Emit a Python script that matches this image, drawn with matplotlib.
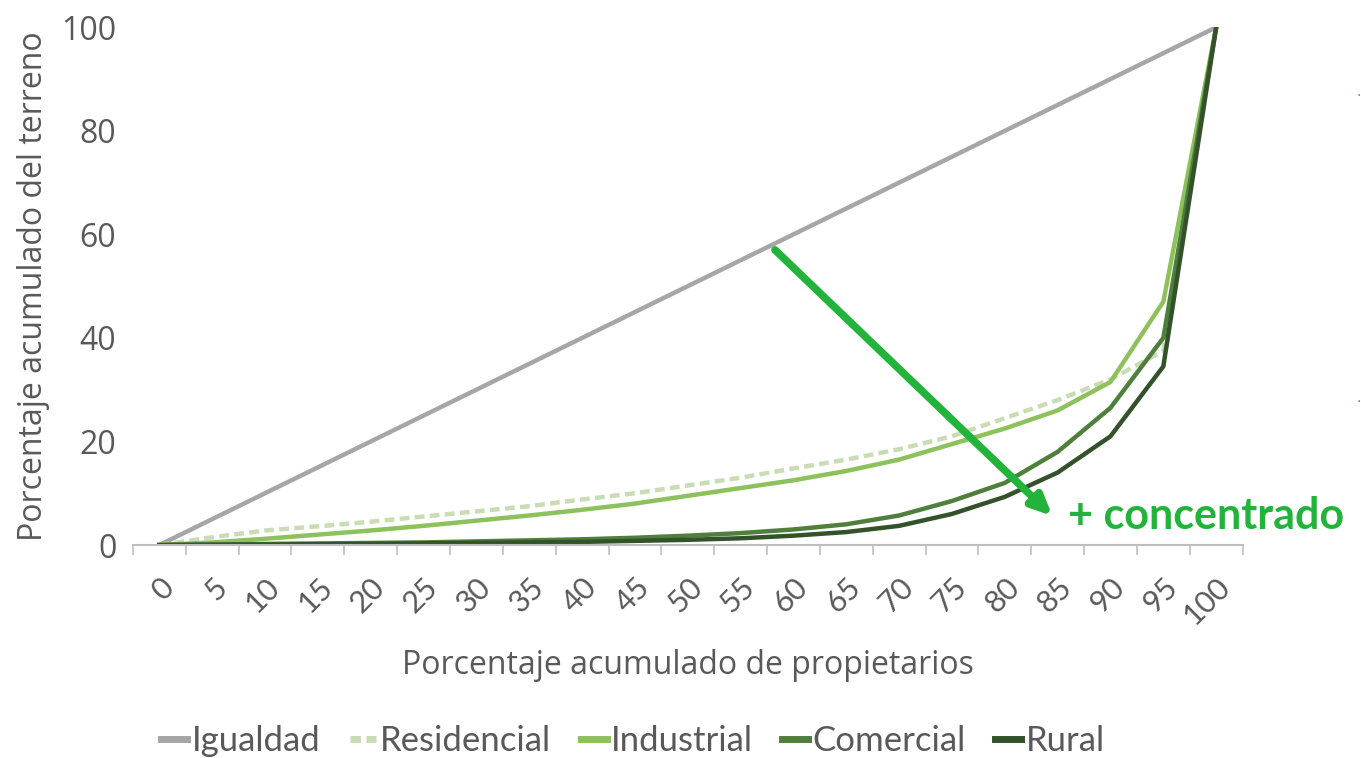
'''
    Curvas de Lorenz: concentracion de la tierra por tipo de uso
'''

# --
# Dependancies
import matplotlib
matplotlib.use('Agg')
import matplotlib.pyplot as plt
from matplotlib.lines import Line2D

# --
# Data
categorias = [0, 5, 10, 15, 20, 25, 30, 35, 40, 45, 50,
              55, 60, 65, 70, 75, 80, 85, 90, 95, 100]
igualdad = [0, 5, 10, 15, 20, 25, 30, 35, 40, 45, 50,
            55, 60, 65, 70, 75, 80, 85, 90, 95, 100]
residencial = [0, 1.5, 2.8, 3.6, 4.5, 5.5, 6.5, 7.5, 8.8, 10, 11.5,
               13, 14.8, 16.5, 18.5, 21, 24.5, 28, 32, 37.5, 100]
industrial = [0, 0.5, 1.2, 2, 2.8, 3.7, 4.7, 5.7, 6.8, 8, 9.5,
              11, 12.5, 14.3, 16.5, 19.5, 22.5, 26, 31.5, 47, 100]
comercial = [0, 0.1, 0.2, 0.3, 0.4, 0.5, 0.7, 0.9, 1.1, 1.4, 1.8,
             2.3, 3, 4, 5.7, 8.5, 12, 18, 26.5, 40, 100]
rural = [0, 0.05, 0.1, 0.15, 0.2, 0.3, 0.4, 0.5, 0.6, 0.8, 1.0,
         1.3, 1.8, 2.5, 3.7, 6, 9.3, 14, 21, 34.5, 100]

series = ['Igualdad', 'Residencial', 'Industrial', 'Comercial', 'Rural']
colores = ['#A6A6A6', '#C8DDB3', '#8DC15C', '#4F7F3C', '#33522A']

gris = '#595959'
verde = '#22B33A'

# --
# Figure
fig = plt.figure(figsize=(13.61, 7.58), dpi=100)
ax = fig.add_axes([0.0977, 0.281, 0.8153, 0.683])

x = list(range(len(categorias)))
ax.plot(x, igualdad, color=colores[0], lw=3.2, solid_capstyle='butt')
ax.plot(x, residencial, color=colores[1], lw=3.2, ls=(0, (2.2, 1.2)))
ax.plot(x, industrial, color=colores[2], lw=3.2)
ax.plot(x, comercial, color=colores[3], lw=3.2)
ax.plot(x, rural, color=colores[4], lw=3.2)

ax.set_xlim(-0.5, len(categorias) - 0.5)
ax.set_ylim(0, 100)

# - category axis: labels on centres, tick marks on boundaries
ax.set_xticks(x)
ax.set_xticklabels([str(c) for c in categorias], rotation=45, ha='right',
                   rotation_mode='anchor', fontsize=22, color=gris,
                   family='Lato')
ax.set_xticks([i - 0.5 for i in range(len(categorias) + 1)], minor=True)
ax.tick_params(axis='x', which='major', length=0, pad=20)
ax.tick_params(axis='x', which='minor', length=7, width=1.2, color='#BFBFBF')

ax.set_yticks([0, 20, 40, 60, 80, 100])
ax.tick_params(axis='y', length=0, pad=12, labelsize=23, labelcolor=gris)
for t in ax.get_yticklabels():
    t.set_family('Open Sans')

for s in ['top', 'right', 'left']:
    ax.spines[s].set_visible(False)
ax.spines['bottom'].set_color('#BFBFBF')
ax.spines['bottom'].set_linewidth(1.5)

ax.set_xlabel('Porcentaje acumulado de propietarios', fontsize=23,
              color=gris, family='Open Sans', labelpad=14)
ax.set_ylabel('Porcentaje acumulado del terreno', fontsize=23,
              color=gris, family='Open Sans', labelpad=8)

# --
# Arrow + annotation
ax.annotate('', xy=(16.9, 5.6), xytext=(11.65, 57),
            arrowprops=dict(arrowstyle='-|>,head_length=1.2,head_width=0.55',
                            color=verde, lw=5.5, shrinkA=0, shrinkB=0))
ax.text(17.2, 5.6, '+ concentrado', fontsize=31, fontweight='bold',
        color=verde, family='Lato', va='center', ha='left', clip_on=False)

# - small marks at the right edge of the original crop
fig.text(0.9985, 0.879, '.', color=verde, fontsize=10, ha='center', va='center')
fig.text(0.9985, 0.475, '.', color=verde, fontsize=10, ha='center', va='center')

# --
# Legend
handles = [Line2D([], [], color=colores[0], lw=5),
           Line2D([], [], color=colores[1], lw=5, ls=(0, (1.5, 0.8))),
           Line2D([], [], color=colores[2], lw=5),
           Line2D([], [], color=colores[3], lw=5),
           Line2D([], [], color=colores[4], lw=5)]
leg = fig.legend(handles, series, loc='center', bbox_to_anchor=(0.465, 0.022),
                 ncol=5, frameon=False, handlelength=0.75,
                 handletextpad=0.12, columnspacing=0.85,
                 prop={'family': 'Lato', 'size': 25})
for t in leg.get_texts():
    t.set_color(gris)

plt.savefig('out.png', dpi=100)
plt.close('all')
